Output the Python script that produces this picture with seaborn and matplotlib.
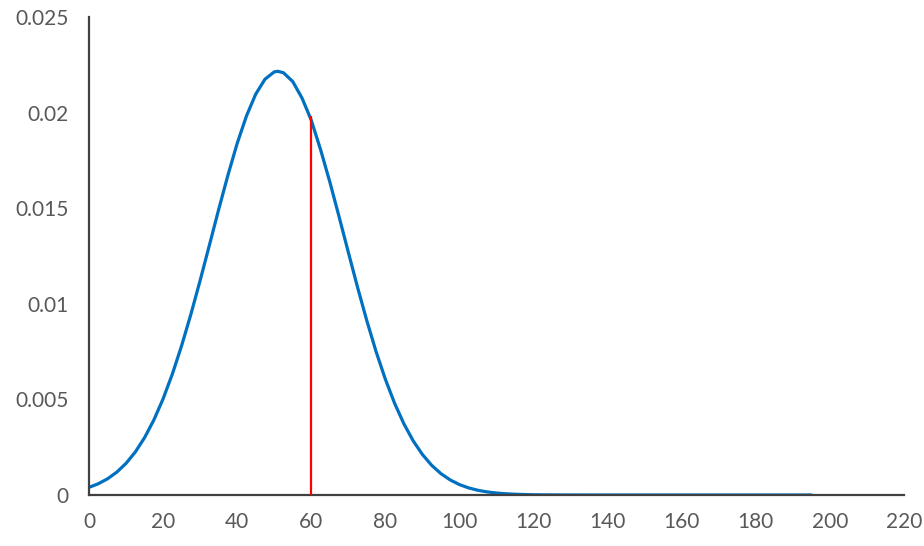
import matplotlib
matplotlib.use("Agg")
import matplotlib.pyplot as plt
import seaborn as sns
import pandas as pd

# Curve values
x_vals = [0, 2.5, 5, 7.5, 10, 12.5, 15, 17.5, 20, 22.5, 25, 27.5, 30, 32.5, 35, 37.5,
          40, 42.5, 45, 47.5, 50, 51, 52.5, 55, 57.5, 60, 62.5, 65, 67.5, 70, 72.5, 75,
          77.5, 80, 82.5, 85, 87.5, 90, 92.5, 95, 97.5, 100, 102.5, 105, 107.5, 110,
          112.5, 115, 117.5, 120, 122.5, 125, 127.5, 130, 135, 140, 145, 150, 155,
          160, 165, 170, 175, 180, 185, 190, 195]
density = [0.000400, 0.000588, 0.000846, 0.001195, 0.001656, 0.002250, 0.003000,
           0.003921, 0.005029, 0.006327, 0.007809, 0.009451, 0.011222, 0.013067,
           0.014930, 0.016727, 0.018390, 0.019822, 0.020966, 0.021745, 0.022130,
           0.022160, 0.022083, 0.021624, 0.020761, 0.019600, 0.018069, 0.016379,
           0.014559, 0.012698, 0.010858, 0.009112, 0.007497, 0.006053, 0.004793,
           0.003723, 0.002836, 0.002120, 0.001553, 0.001117, 0.000788, 0.000545,
           0.000370, 0.000246, 0.000161, 0.000103, 0.0000646, 0.000040, 0.0000241,
           0.000014, 0.0000083, 0.000005, 0.0000027, 0.000001, 0, 0, 0, 0, 0, 0, 0,
           0, 0, 0, 0, 0, 0]

marker_x = 60
marker_top = 0.0198

x_ticks = [0, 20, 40, 60, 80, 100, 120, 140, 160, 180, 200, 220]
y_ticks = [0, 0.005, 0.01, 0.015, 0.02, 0.025]
y_tick_labels = ["0", "0.005", "0.01", "0.015", "0.02", "0.025"]

sns.set_style("white")
plt.rcParams["font.family"] = ["Lato", "DejaVu Sans"]

fig = plt.figure(figsize=(9.24, 5.46), dpi=100)
ax = fig.add_axes([89 / 924, 1 - 495 / 546, (904 - 89) / 924, (495 - 17) / 546])

df = pd.DataFrame({"x": x_vals, "y": density})
sns.lineplot(data=df, x="x", y="y", ax=ax, color="#0070C0", linewidth=2.3,
             estimator=None, sort=False, solid_joinstyle="round",
             solid_capstyle="round")
ax.vlines(marker_x, 0, marker_top, color="#FF0000", linewidth=1.6, zorder=3)

ax.set_xlim(0, 220)
ax.set_ylim(0, 0.025)
ax.set_xticks(x_ticks)
ax.set_xticklabels([str(t) for t in x_ticks])
ax.set_yticks(y_ticks)
ax.set_yticklabels(y_tick_labels)
ax.set_xlabel("")
ax.set_ylabel("")

for side in ["top", "right"]:
    ax.spines[side].set_visible(False)
for side in ["left", "bottom"]:
    ax.spines[side].set_color("#404040")
    ax.spines[side].set_linewidth(1.6)

ax.tick_params(axis="both", direction="out", length=4.5, width=1.6, color="#404040",
               labelcolor="#595959", labelsize=15)
ax.tick_params(axis="x", pad=8)
ax.tick_params(axis="y", pad=10)
ax.grid(False)

fig.savefig("out.png", dpi=100)
